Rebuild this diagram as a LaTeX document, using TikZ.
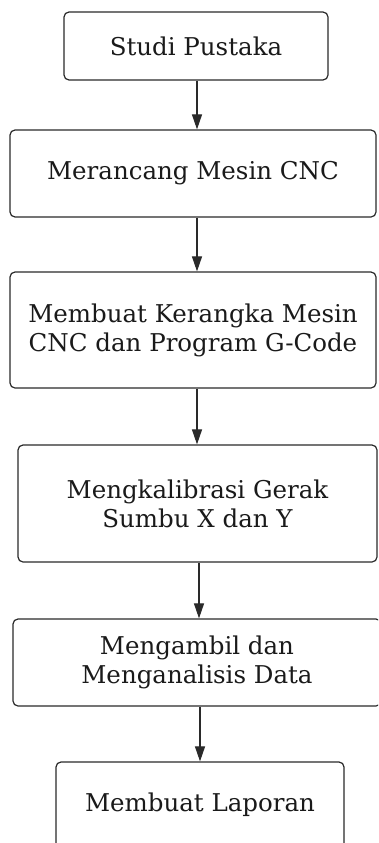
\documentclass[tikz,border=0pt]{standalone}
\usepackage{fontspec}
\setmainfont{DejaVu Serif}
\usetikzlibrary{arrows.meta}
\definecolor{ln}{HTML}{2A2A2A}
\definecolor{tx}{HTML}{1A1A1A}
\tikzset{
  stepbox/.style={draw=ln, line width=1.2pt, rounded corners=5pt, fill=white,
    text=tx, align=center, inner sep=0pt, font=\fontsize{24.5}{29}\selectfont},
  arr/.style={draw=ln, line width=1.1pt, -{Triangle[width=10pt,length=15pt]}}
}
\begin{document}
\begin{tikzpicture}[x=1pt,y=-1pt]
\useasboundingbox (0,0) rectangle (378,843);
\clip (0,0) rectangle (378,843);
\node[stepbox, minimum width=264pt, minimum height=68pt] (b1) at (196,46) {Studi Pustaka};
\node[stepbox, minimum width=366pt, minimum height=87pt] (b2) at (193,173.5) {Merancang Mesin CNC};
\node[stepbox, minimum width=366pt, minimum height=116pt] (b3) at (193,330) {Membuat Kerangka Mesin\\CNC dan Program G-Code};
\node[stepbox, minimum width=359pt, minimum height=117pt] (b4) at (197.5,503.5) {Mengkalibrasi Gerak\\Sumbu X dan Y};
\node[stepbox, minimum width=368pt, minimum height=87pt] (b5) at (197,662.5) {Mengambil dan\\Menganalisis Data};
\node[stepbox, minimum width=288pt, minimum height=86pt] (b6) at (200,805) {Membuat Laporan};
\draw[arr] ([xshift=1pt]b1.south) -- ([xshift=1pt]b1.south |- b2.north);
\draw[arr] ([xshift=4pt]b2.south) -- ([xshift=4pt]b2.south |- b3.north);
\draw[arr] ([xshift=4pt]b3.south) -- ([xshift=4pt]b3.south |- b4.north);
\draw[arr] ([xshift=1.5pt]b4.south) -- ([xshift=1.5pt]b4.south |- b5.north);
\draw[arr] ([xshift=3pt]b5.south) -- ([xshift=3pt]b5.south |- b6.north);
\end{tikzpicture}
\end{document}
